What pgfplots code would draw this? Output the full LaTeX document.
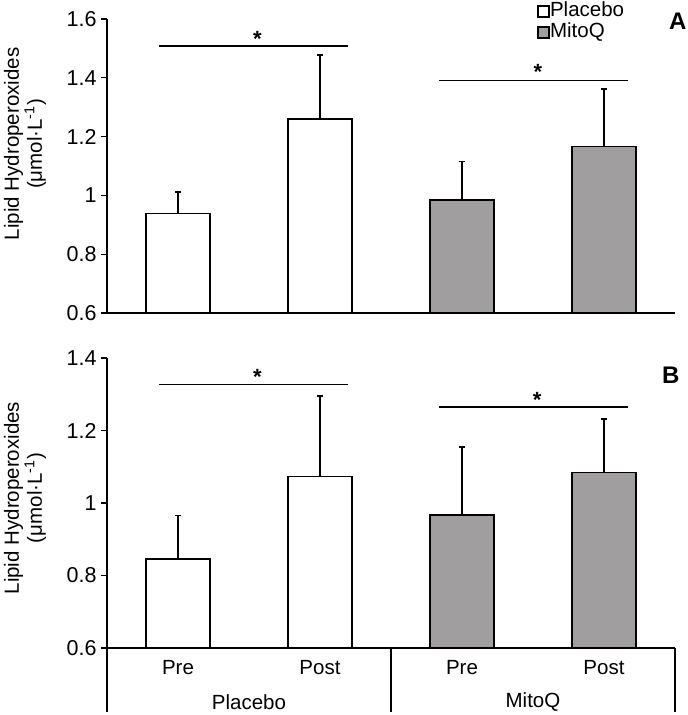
\documentclass[border=0pt]{standalone}
\usepackage{fontspec}
\setmainfont{Liberation Sans}
\usepackage{pgfplots}
\pgfplotsset{compat=1.18}
\definecolor{barg}{RGB}{160,158,158}
\newcommand{\lbl}{\fontsize{20.5bp}{23bp}\selectfont}
\newcommand{\tck}{\fontsize{21.5bp}{23bp}\selectfont}
\newcommand{\astf}{\fontsize{22bp}{22bp}\selectfont\bfseries}
\pgfplotsset{
  panel/.style={
    scale only axis, width=568bp,
    xmin=-0.5, xmax=3.5, ymin=0.6,
    axis x line=bottom, axis y line=left,
    axis line style={line width=1.3bp, -},
    x axis line style={-}, y axis line style={-},
    ytick style={line width=1.3bp, black},
    tick align=outside, major tick length=6bp,
    yticklabel style={font=\tck, xshift=-1bp},
    /pgf/number format/assume math mode=true,
    clip=false,
    ylabel style={font=\lbl, align=center, anchor=center, rotate=0},
    ylabel={Lipid Hydroperoxides\\(μmol·L\textsuperscript{-1})},
  },
  barstyle/.style={ybar, bar width=0.45, bar shift=0pt, draw=black, line width=1.3bp,
    error bars/y dir=plus, error bars/y explicit, error bars/error mark=-,
    error bars/error bar style={line width=1.3bp, black},
    error bars/error mark options={line width=1.8bp, mark size=3.2bp, black, rotate=90}},
  sig/.style={black, line width=1.3bp, no marks, forget plot},
}
\begin{document}
\begin{tikzpicture}
\useasboundingbox (0,0) rectangle (688bp,715bp);
% Panel A
\begin{axis}[panel, at={(107bp,402bp)}, anchor=south west, height=294bp,
  ymax=1.6, ytick={0.6,0.8,1,1.2,1.4,1.6}, yticklabels={0.6,0.8,1,1.2,1.4,1.6},
  xtick=\empty,
  ylabel style={at={(axis description cs:-0.1444,0.575)}},
  legend style={at={(axis description cs:0.7575,1.062)}, anchor=north west, draw=none, fill=none,
    inner sep=0pt, font=\lbl, row sep=0bp, nodes={inner sep=0.5bp, text height=15bp, text depth=5bp}},
  legend image code/.code={\draw[#1, line width=1.1bp] (0bp,-5.5bp) rectangle (11bp,5.5bp);},
  legend cell align=left]
\addplot[barstyle, fill=white, forget plot] coordinates {(0,0.939) +- (0,0.072) (1,1.260) +- (0,0.218)};
\addplot[barstyle, fill=barg, forget plot] coordinates {(2,0.984) +- (0,0.131) (3,1.166) +- (0,0.195)};
\addlegendimage{draw=black, fill=white}
\addlegendentry{Placebo}
\addlegendimage{draw=black, fill=barg}
\addlegendentry{MitoQ}
\addplot[sig] coordinates {(-0.134,1.508) (1.197,1.508)};
\addplot[sig] coordinates {(1.838,1.390) (3.169,1.390)};
\node[font=\astf, anchor=north, inner sep=0pt] at (axis cs:0.56,1.557) {*};
\node[font=\astf, anchor=north, inner sep=0pt] at (axis cs:2.535,1.445) {*};
\node[font=\fontsize{24bp}{26bp}\selectfont\bfseries] at (axis cs:3.52,1.593) {A};
\end{axis}
% Panel B
\begin{axis}[panel, at={(107bp,67bp)}, anchor=south west, height=290bp,
  ymax=1.4, ytick={0.6,0.8,1,1.2,1.4}, yticklabels={0.6,0.8,1,1.2,1.4},
  xtick={0,1,2,3}, xticklabels={Pre,Post,Pre,Post}, major x tick style={draw=none},
  ylabel style={at={(axis description cs:-0.1444,0.517)}},
  xticklabel style={font=\lbl, yshift=-3bp}]
\addplot[barstyle, fill=white] coordinates {(0,0.8455) +- (0,0.120) (1,1.0726) +- (0,0.223)};
\addplot[barstyle, fill=barg] coordinates {(2,0.967) +- (0,0.187) (3,1.0836) +- (0,0.148)};
\addplot[sig] coordinates {(-0.134,1.327) (1.197,1.327)};
\addplot[sig] coordinates {(1.838,1.265) (3.169,1.265)};
\node[font=\astf, anchor=north, inner sep=0pt] at (axis cs:0.56,1.369) {*};
\node[font=\astf, anchor=north, inner sep=0pt] at (axis cs:2.53,1.306) {*};
\node[font=\fontsize{24bp}{26bp}\selectfont\bfseries] at (axis cs:3.47,1.353) {B};
\draw[line width=1.3bp] (axis cs:-0.5,0.6) -- ([yshift=-64bp]axis cs:-0.5,0.6);
\draw[line width=1.3bp] (axis cs:1.5,0.6) -- ([yshift=-64bp]axis cs:1.5,0.6);
\draw[line width=1.3bp] (axis cs:3.5,0.6) -- ([yshift=-64bp]axis cs:3.5,0.6);
\node[font=\lbl] at ([yshift=-54bp]axis cs:0.5,0.6) {Placebo};
\node[font=\lbl] at ([yshift=-54bp]axis cs:2.5,0.6) {MitoQ};
\end{axis}
\end{tikzpicture}
\end{document}
